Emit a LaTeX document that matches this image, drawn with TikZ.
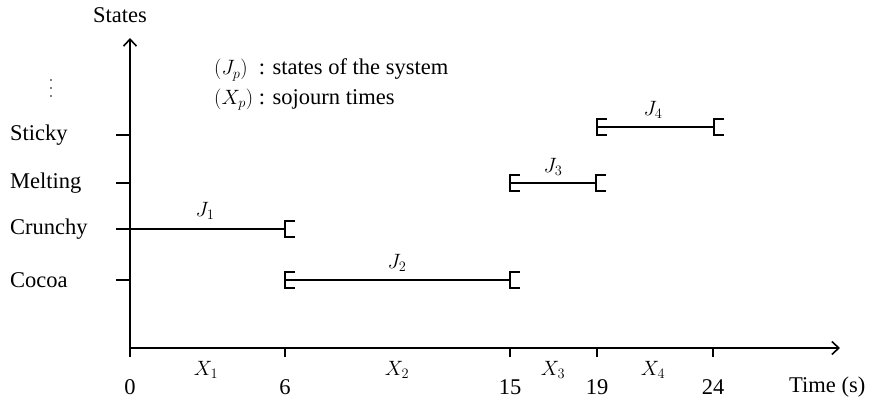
\documentclass[tikz,border=0pt]{standalone}
\usepackage{fontspec}
\setmainfont{Liberation Serif}
\usetikzlibrary{arrows.meta}
\begin{document}
\begin{tikzpicture}[x=1pt,y=-1pt,
  axis/.style={line width=1.7pt,-{Straight Barb[length=7pt,width=13pt,line width=1.6pt]}},
  thick line/.style={line width=1.7pt},
  lbl/.style={font=\fontsize{22.5}{26}\selectfont, inner sep=0pt},
  brk/.pic={\draw[line width=1.7pt] (10,-8) -- (0,-8) -- (0,8) -- (10,8);}]
\useasboundingbox (0,0) rectangle (869,401);
% axes
\coordinate (O) at (130,348);
\coordinate (ytop) at (130,38);
\coordinate (xend) at (840,348);
\draw[axis] (O) -- (ytop);
\draw[axis] (O) -- (xend);
\node[lbl] (states) at (120,15) {States};
\node[lbl, anchor=west] (time) at (789,387) {Time (s)};
% y ticks and labels
\foreach \n/\t/\y in {sticky/Sticky/135, melting/Melting/183, crunchy/Crunchy/229, cocoa/Cocoa/280}{
  \coordinate (t\n) at (130,\y);
  \draw[thick line] (116,\y) -- (t\n);
  \node[lbl, anchor=west] (\n) at (10,\y) {\t};
}
% vertical dots
\foreach \y in {80,88,96} \fill (51,\y) circle (0.9);
% x ticks and labels
\foreach \n/\x in {0/130, 6/285, 15/510, 19/597, 24/713}{
  \coordinate (x\n) at (\x,348);
  \draw[thick line] (x\n) -- (\x,357);
  \node[lbl] (n\n) at (\x,387) {\n};
}
\node[lbl] (X1) at (206,370) {$X_1$};
\node[lbl] (X2) at (397,370) {$X_2$};
\node[lbl] (X3) at (553,370) {$X_3$};
\node[lbl] (X4) at (653,370) {$X_4$};
% legend
\node[lbl, anchor=west] (leg1) at (214,70) {$(J_p)$\ \ : states of the system};
\node[lbl, anchor=west] (leg2) at (214,100) {$(X_p)$ : sojourn times};
% segments
\coordinate (a1) at (130,229); \coordinate (b1) at (285,229);
\coordinate (a2) at (285,280); \coordinate (b2) at (510,280);
\coordinate (a3) at (510,183); \coordinate (b3) at (596,183);
\coordinate (a4) at (597,127); \coordinate (b4) at (714,127);
\draw[thick line] (a1) -- (b1);
\draw[thick line] (a2) -- (b2);
\draw[thick line] (a3) -- (b3);
\draw[thick line] (a4) -- (b4);
\pic at (b1) {brk};
\pic at (a2) {brk}; \pic at (b2) {brk};
\pic at (a3) {brk}; \pic at (b3) {brk};
\pic at (a4) {brk}; \pic at (b4) {brk};
\node[lbl] (J1) at (205,211) {$J_1$};
\node[lbl] (J2) at (397,263) {$J_2$};
\node[lbl] (J3) at (553,167) {$J_3$};
\node[lbl] (J4) at (653,110) {$J_4$};
\end{tikzpicture}
\end{document}
